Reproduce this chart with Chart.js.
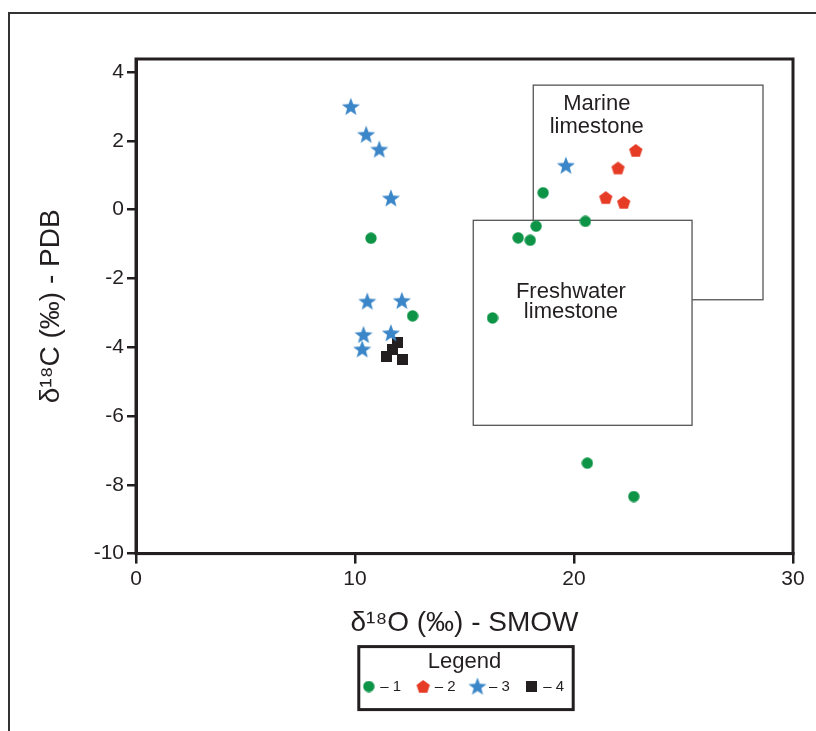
<!DOCTYPE html>
<html>
<head>
<meta charset="utf-8">
<script src="https://cdn.jsdelivr.net/npm/chart.js@4.4.1/dist/chart.umd.min.js"></script>
<style>
  html, body { margin: 0; padding: 0; background: #fff; }
</style>
</head>
<body>
<canvas id="myChart" width="816" height="731"></canvas>
<script>
// d18O (SMOW) and d13C (PDB) per sample group
const group1X = [10.73, 12.63, 18.59, 18.27, 17.45, 18.00, 20.52, 16.28, 20.61, 22.73];
const group1Y = [-0.83, -3.09, 0.49, -0.48, -0.82, -0.89, -0.34, -3.15, -7.37, -8.34];
const group2X = [22.82, 22.01, 21.45, 22.27];
const group2Y = [1.72, 1.21, 0.35, 0.21];
const group3X = [9.81, 10.51, 11.11, 11.64, 10.56, 12.14, 10.39, 11.64, 10.33, 19.63];
const group3Y = [2.99, 2.18, 1.75, 0.33, -2.67, -2.65, -3.64, -3.59, -4.06, 1.28];
const group4X = [11.93, 11.70, 11.43, 12.16];
const group4Y = [-3.85, -4.08, -4.28, -4.37];

const groupLabels = ['– 1', '– 2', '– 3', '– 4'];

// tick labels
const xTicks = [0, 10, 20, 30];
const yTicks = [-10, -8, -6, -4, -2, 0, 2, 4];

// limestone fields (x range, y range, label anchor)
const fieldNames = [['Marine', 'limestone'], ['Freshwater', 'limestone']];
const fieldX = [[18.14, 28.63], [15.40, 25.39]];
const fieldY = [[-2.62, 3.62], [-6.27, -0.31]];
const fieldLabelX = [21.04, 19.86];
const fieldLabelY = [2.75, -2.69];

const ink = '#231f20';
Chart.defaults.font.family = "'Liberation Sans', Arial, sans-serif";

// filled markers drawn once and reused as point styles
function makeMarker(shape, color, size) {
  const c = document.createElement('canvas');
  c.width = c.height = size;
  const g = c.getContext('2d');
  const m = size / 2;
  g.fillStyle = color;
  g.beginPath();
  if (shape === 'circle') {
    g.arc(m, m, m - 0.3, 0, Math.PI * 2);
  } else if (shape === 'square') {
    g.rect(0, 0, size, size);
  } else {
    const n = shape === 'star' ? 10 : 5;
    for (let i = 0; i < n; i++) {
      const r = (shape === 'star' && i % 2) ? (m - 0.5) * 0.42 : m - 0.5;
      const a = -Math.PI / 2 + i * 2 * Math.PI / n;
      const px = m + r * Math.cos(a), py = m + 0.6 + r * Math.sin(a);
      if (i === 0) g.moveTo(px, py); else g.lineTo(px, py);
    }
    g.closePath();
  }
  g.fill();
  return c;
}

function toPoints(xs, ys) {
  return xs.map((x, i) => ({ x: x, y: ys[i] }));
}

const frames = {
  id: 'frames',
  beforeDraw(chart) {
    const ctx = chart.ctx;
    ctx.save();
    ctx.strokeStyle = '#333';
    ctx.lineWidth = 2;
    ctx.strokeRect(9, 13, 1000, 1000);
    ctx.restore();
  },
  beforeDatasetsDraw(chart) {
    const { ctx, scales: { x, y } } = chart;
    ctx.save();
    fieldNames.forEach((lines, i) => {
      const l = x.getPixelForValue(fieldX[i][0]);
      const r = x.getPixelForValue(fieldX[i][1]);
      const t = y.getPixelForValue(fieldY[i][1]);
      const b = y.getPixelForValue(fieldY[i][0]);
      ctx.fillStyle = '#fff';
      ctx.fillRect(l, t, r - l, b - t);
      ctx.strokeStyle = '#555';
      ctx.lineWidth = 1.3;
      ctx.strokeRect(l, t, r - l, b - t);
    });
    ctx.fillStyle = ink;
    ctx.font = "22px 'Liberation Sans', Arial, sans-serif";
    ctx.textAlign = 'center';
    ctx.textBaseline = 'middle';
    fieldNames.forEach((lines, i) => {
      const cx = x.getPixelForValue(fieldLabelX[i]);
      const cy = y.getPixelForValue(fieldLabelY[i]);
      const gap = i === 0 ? 23 : 20;
      ctx.fillText(lines[0], cx, cy - gap / 2);
      ctx.fillText(lines[1], cx, cy + gap / 2);
    });
    ctx.restore();
  },
  afterDraw(chart) {
    const { ctx, chartArea: a, legend } = chart;
    ctx.save();
    ctx.strokeStyle = ink;
    ctx.lineWidth = 3;
    ctx.strokeRect(a.left, a.top, a.right - a.left, a.bottom - a.top);
    // box round the legend
    const hb = legend.legendHitBoxes;
    const l = Math.min(...hb.map(h => h.left)) - 6;
    const r = Math.max(...hb.map(h => h.left + h.width)) + 9;
    ctx.strokeRect(l, legend.top + 2, r - l, 63);
    ctx.restore();
  }
};

const canvas = document.getElementById('myChart');

const chart = new Chart(canvas, {
  type: 'scatter',
  data: {
    datasets: [
      { label: groupLabels[0], data: toPoints(group1X, group1Y), pointStyle: makeMarker('circle', '#0e9447', 12), pointRadius: 6 },
      { label: groupLabels[1], data: toPoints(group2X, group2Y), pointStyle: makeMarker('pentagon', '#e63b25', 15), pointRadius: 6 },
      { label: groupLabels[2], data: toPoints(group3X, group3Y), pointStyle: makeMarker('star', '#3b86c8', 20), pointRadius: 8 },
      { label: groupLabels[3], data: toPoints(group4X, group4Y), pointStyle: makeMarker('square', ink, 11), pointRadius: 6 }
    ]
  },
  options: {
    responsive: false,
    animation: false,
    layout: { padding: { top: 59, right: 23, bottom: 27, left: 0 } },
    scales: {
      x: {
        type: 'linear', min: 0, max: 30,
        afterBuildTicks: s => { s.ticks = xTicks.map(v => ({ value: v })); },
        afterFit: s => { s.height = 91; },
        border: { display: true, width: 3, color: ink },
        grid: { drawOnChartArea: false, drawTicks: true, tickLength: 10, lineWidth: 2.5, color: ink },
        ticks: { color: ink, font: { size: 21 }, padding: 3, maxRotation: 0 },
        title: { display: true, text: 'δ¹⁸O (‰) - SMOW', color: ink, font: { size: 28 }, padding: { top: 0, bottom: 5 } }
      },
      y: {
        type: 'linear', min: -10, max: 4.38,
        afterBuildTicks: s => { s.ticks = yTicks.map(v => ({ value: v })); },
        afterFit: s => { s.width = 136; },
        border: { display: true, width: 3, color: ink },
        grid: { drawOnChartArea: false, drawTicks: true, tickLength: 9, lineWidth: 2.5, color: ink },
        ticks: { color: ink, font: { size: 21 }, padding: 3 },
        title: { display: true, text: 'δ¹⁸C (‰) - PDB', color: ink, font: { size: 28 }, padding: { top: 34, bottom: 0 } }
      }
    },
    plugins: {
      legend: {
        position: 'bottom',
        fullSize: false,
        title: { display: true, text: 'Legend', color: ink, font: { size: 22 }, padding: { top: 6, bottom: -16 } },
        labels: { usePointStyle: true, boxWidth: 8, boxHeight: 8, padding: 18, color: ink, font: { size: 15 } }
      },
      tooltip: { enabled: false }
    }
  },
  plugins: [frames]
});
</script>
</body>
</html>
